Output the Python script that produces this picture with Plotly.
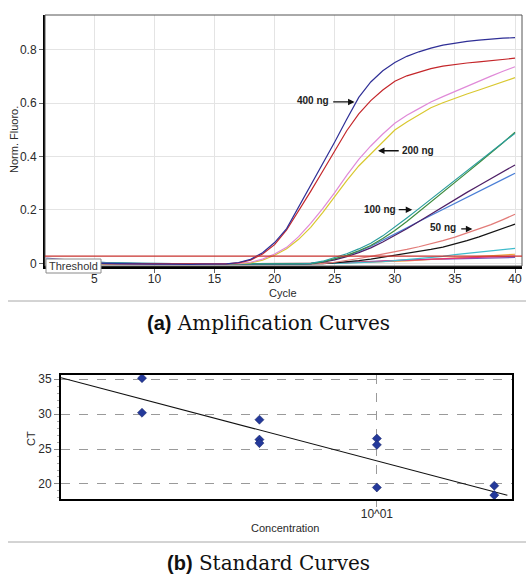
import plotly.graph_objects as go

W, H = 526, 574

# ---------------- DATA ----------------
cycles = list(range(1, 41))

blue_400 = [0.010, 0.006, 0.003, 0.001, 0.000, -0.001, -0.002, -0.002, -0.003, -0.003,
            -0.003, -0.004, -0.004, -0.003, -0.003, -0.002, 0.003, 0.015, 0.040, 0.078,
            0.130, 0.210, 0.290, 0.375, 0.455, 0.540, 0.622, 0.680, 0.722, 0.753,
            0.776, 0.793, 0.807, 0.818, 0.826, 0.832, 0.837, 0.841, 0.844, 0.846]
red_400 = [0.006, 0.004, 0.002, 0.001, 0.000, -0.001, -0.001, -0.002, -0.002, -0.003,
           -0.003, -0.003, -0.003, -0.003, -0.002, -0.002, 0.002, 0.012, 0.035, 0.070,
           0.125, 0.195, 0.270, 0.345, 0.420, 0.497, 0.560, 0.610, 0.650, 0.683,
           0.703, 0.718, 0.730, 0.739, 0.746, 0.751, 0.755, 0.759, 0.764, 0.769]
pink_200 = [0.008, 0.005, 0.003, 0.001, 0.000, -0.001, -0.001, -0.002, -0.002, -0.002,
            -0.003, -0.003, -0.003, -0.002, -0.002, -0.001, 0.000, 0.004, 0.016, 0.035,
            0.060, 0.100, 0.150, 0.205, 0.265, 0.330, 0.390, 0.440, 0.485, 0.525,
            0.555, 0.580, 0.605, 0.625, 0.645, 0.665, 0.684, 0.702, 0.720, 0.737]
yellow_200 = [0.004, 0.002, 0.001, 0.000, -0.001, -0.001, -0.002, -0.002, -0.003, -0.003,
              -0.003, -0.003, -0.003, -0.003, -0.002, -0.002, -0.001, 0.002, 0.012, 0.030,
              0.055, 0.090, 0.135, 0.190, 0.250, 0.310, 0.365, 0.410, 0.455, 0.500,
              0.530, 0.558, 0.583, 0.602, 0.619, 0.635, 0.650, 0.665, 0.680, 0.696]
teal_100 = [0.014, 0.010, 0.006, 0.003, 0.001, 0.000, -0.001, -0.001, -0.002, -0.002,
            -0.002, -0.002, -0.003, -0.003, -0.003, -0.003, -0.003, -0.003, -0.003, -0.003,
            -0.002, -0.002, 0.000, 0.008, 0.022, 0.036, 0.054, 0.075, 0.103, 0.135,
            0.170, 0.205, 0.240, 0.275, 0.310, 0.345, 0.380, 0.415, 0.450, 0.488]
green_100 = [0.004, 0.002, 0.001, 0.000, -0.001, -0.001, -0.002, -0.002, -0.002, -0.003,
             -0.003, -0.003, -0.003, -0.003, -0.003, -0.003, -0.003, -0.003, -0.003, -0.003,
             -0.003, -0.002, -0.001, 0.005, 0.017, 0.030, 0.047, 0.067, 0.093, 0.123,
             0.157, 0.193, 0.230, 0.267, 0.304, 0.340, 0.377, 0.414, 0.452, 0.492]
purple_100 = [0.003, 0.002, 0.001, 0.000, -0.001, -0.002, -0.002, -0.003, -0.003, -0.003,
              -0.003, -0.004, -0.004, -0.004, -0.004, -0.004, -0.004, -0.004, -0.004, -0.003,
              -0.003, -0.002, -0.001, 0.004, 0.013, 0.025, 0.040, 0.058, 0.080, 0.104,
              0.130, 0.157, 0.185, 0.212, 0.240, 0.266, 0.292, 0.317, 0.343, 0.369]
blue_100 = [0.005, 0.003, 0.002, 0.001, 0.000, -0.001, -0.001, -0.002, -0.002, -0.002,
            -0.003, -0.003, -0.003, -0.003, -0.003, -0.003, -0.003, -0.003, -0.003, -0.003,
            -0.002, -0.002, -0.001, 0.006, 0.016, 0.029, 0.045, 0.064, 0.086, 0.109,
            0.133, 0.157, 0.180, 0.203, 0.225, 0.248, 0.271, 0.294, 0.316, 0.338]
salmon_50 = [0.006, 0.004, 0.002, 0.001, 0.000, -0.001, -0.001, -0.002, -0.002, -0.002,
             -0.002, -0.003, -0.003, -0.003, -0.003, -0.003, -0.003, -0.003, -0.003, -0.003,
             -0.003, -0.002, -0.002, -0.001, 0.004, 0.010, 0.018, 0.026, 0.034, 0.042,
             0.052, 0.062, 0.073, 0.085, 0.098, 0.113, 0.128, 0.145, 0.164, 0.184]
black_50 = [0.002, 0.001, 0.000, 0.000, 0.000, 0.000, 0.000, 0.000, 0.000, 0.000,
            0.000, 0.000, 0.000, 0.000, -0.001, -0.001, -0.002, -0.002, -0.003, -0.003,
            -0.003, -0.003, -0.002, -0.001, 0.002, 0.005, 0.010, 0.016, 0.023, 0.030,
            0.037, 0.044, 0.052, 0.061, 0.072, 0.085, 0.099, 0.114, 0.130, 0.147]
cyan_low = [0.016, 0.013, 0.010, 0.007, 0.005, 0.003, 0.002, 0.001, 0.000, -0.001,
            -0.001, -0.002, -0.002, -0.002, -0.002, -0.002, -0.002, -0.002, -0.002, -0.002,
            -0.002, -0.002, -0.001, -0.001, 0.000, 0.001, 0.002, 0.004, 0.006, 0.010,
            0.014, 0.018, 0.022, 0.026, 0.033, 0.038, 0.042, 0.047, 0.051, 0.056]
magenta_low = [0.003, 0.002, 0.001, 0.000, -0.001, -0.001, -0.002, -0.002, -0.002, -0.002,
               -0.002, -0.002, -0.002, -0.002, -0.002, -0.002, -0.002, -0.002, -0.002, -0.002,
               -0.002, -0.001, -0.001, 0.000, 0.001, 0.002, 0.003, 0.006, 0.008, 0.010,
               0.012, 0.014, 0.016, 0.018, 0.019, 0.021, 0.022, 0.024, 0.025, 0.027]
orange_low = [0.002, 0.001, 0.000, 0.000, -0.001, -0.001, -0.001, -0.002, -0.002, -0.002,
              -0.002, -0.002, -0.002, -0.002, -0.002, -0.002, -0.002, -0.002, -0.002, -0.002,
              -0.002, -0.001, -0.001, 0.000, 0.001, 0.002, 0.003, 0.004, 0.005, 0.006,
              0.009, 0.012, 0.015, 0.018, 0.021, 0.024, 0.027, 0.030, 0.032, 0.034]
violet_low = [0.020, 0.016, 0.012, 0.008, 0.005, 0.003, 0.001, 0.000, -0.001, -0.002,
              -0.002, -0.003, -0.003, -0.004, -0.004, -0.004, -0.004, -0.004, -0.004, -0.004,
              -0.003, -0.002, -0.001, 0.000, 0.002, 0.004, 0.006, 0.008, 0.010, 0.012,
              0.013, 0.014, 0.015, 0.016, 0.017, 0.018, 0.019, 0.020, 0.021, 0.022]

threshold_value = 0.027

curve_names = ["violet_low", "orange_low", "magenta_low", "cyan_low", "black_50", "salmon_50",
               "blue_100", "purple_100", "green_100", "teal_100", "yellow_200", "pink_200",
               "red_400", "blue_400"]
curve_values = [violet_low, orange_low, magenta_low, cyan_low, black_50, salmon_50,
                blue_100, purple_100, green_100, teal_100, yellow_200, pink_200,
                red_400, blue_400]
curve_colors = ["#7a5ab8", "#f0a23a", "#e0307e", "#3fbccc", "#141414", "#e27b78",
                "#4a7fd6", "#4e1f66", "#3d8b3d", "#2a9d9d", "#d9c830", "#e08ad8",
                "#c4262a", "#2f2f96"]

# labels and arrows: text, text position, arrow start, arrow tip (cycle, fluoro)
label_texts = ["400 ng", "200 ng", "100 ng", "50 ng"]
label_pos = [(23.2, 0.61), (31.96, 0.422), (28.77, 0.201), (34.0, 0.134)]
arrow_from = [(24.75, 0.605), (30.45, 0.422), (30.2, 0.201), (35.4, 0.129)]
arrow_to = [(26.65, 0.605), (28.6, 0.422), (31.45, 0.201), (36.45, 0.129)]

x_ticks_a = [5, 10, 15, 20, 25, 30, 35, 40]
y_ticks_a = [0, 0.2, 0.4, 0.6, 0.8]
y_ticktext_a = ["0", "0.2", "0.4", "0.6", "0.8"]

# standard curve
concentration = [2.5, 2.5, 5, 5, 5, 10, 10, 10, 20, 20]
ct_values = [35.15, 30.2, 29.2, 26.35, 25.85, 26.5, 25.6, 19.5, 19.75, 18.4]
fit_conc = [1.55, 21.6]
fit_ct = [35.2, 18.4]
y_ticks_b = [20, 25, 30, 35]
x_ticks_b = [10]
x_ticktext_b = ["10^01"]

# ---------------- FIGURE ----------------
def px_x(p):
    return p / W

def px_y(p):
    return 1 - p / H

fig = go.Figure()

for name, vals, col in zip(curve_names, curve_values, curve_colors):
    fig.add_trace(go.Scatter(x=cycles, y=vals, mode="lines", name=name,
                             line=dict(color=col, width=1.2), xaxis="x", yaxis="y",
                             showlegend=False, hoverinfo="skip"))

fig.add_trace(go.Scatter(x=fit_conc, y=fit_ct, mode="lines",
                         line=dict(color="#111111", width=1.1),
                         xaxis="x2", yaxis="y2", showlegend=False))
fig.add_trace(go.Scatter(x=concentration, y=ct_values, mode="markers",
                         marker=dict(symbol="diamond", size=7, color="#24399a",
                                     line=dict(color="#142060", width=0.5)),
                         xaxis="x2", yaxis="y2", showlegend=False, cliponaxis=False))

tick_font = dict(family="Liberation Sans, Arial, sans-serif", size=12, color="#2a2a2a")

fig.update_layout(
    width=W, height=H, autosize=False,
    margin=dict(l=0, r=0, t=0, b=0, autoexpand=False),
    paper_bgcolor="white", plot_bgcolor="white",
    xaxis=dict(domain=[px_x(45), px_x(522)], range=[0.9, 40.58], tickvals=x_ticks_a,
               showgrid=True, gridcolor="#e4e4e4", gridwidth=1, zeroline=False,
               ticks="outside", ticklen=4, tickcolor="#666", tickfont=tick_font,
               ticklabelstandoff=-4,
               showline=True, linecolor="black", linewidth=2.5, anchor="y",
               automargin=False),
    yaxis=dict(domain=[px_y(266), px_y(15)], range=[-0.01, 0.931], tickvals=y_ticks_a,
               ticktext=y_ticktext_a, showgrid=True, gridcolor="#e4e4e4", zeroline=False,
               ticks="outside", ticklen=4, tickcolor="#666", tickfont=tick_font,
               showline=True, linecolor="black", linewidth=2, anchor="x",
               automargin=False),
    xaxis2=dict(domain=[px_x(61), px_x(512)], type="log",
                range=[0.1903, 1.3464], tickvals=x_ticks_b, ticktext=x_ticktext_b,
                showgrid=True, gridcolor="#9a9a9a", griddash="dash", gridwidth=1,
                zeroline=False, ticks="outside", ticklen=6, tickcolor="#9a9a9a",
                ticklabelstandoff=-3,
                tickfont=tick_font, showline=True, mirror=True, linecolor="black",
                linewidth=2, anchor="y2", automargin=False),
    yaxis2=dict(domain=[px_y(499), px_y(375)], range=[17.85, 35.6], tickvals=y_ticks_b,
                showgrid=True, gridcolor="#9a9a9a", griddash="dash", gridwidth=1,
                zeroline=False, ticks="outside", ticklen=5, tickcolor="#888",
                tickfont=tick_font, showline=True, mirror=True, linecolor="black",
                linewidth=2, anchor="x2", automargin=False,
                minor=dict(dtick=1, ticks="outside", ticklen=2, tickcolor="#aaa", showgrid=False)),
)

shapes = []
# top chart frame (top / right thin grey)
shapes.append(dict(type="rect", xref="x domain", yref="y domain", x0=0, x1=1, y0=0, y1=1,
                   line=dict(color="#555", width=1), layer="above"))
# threshold line
shapes.append(dict(type="line", xref="x domain", yref="y", x0=0, x1=1,
                   y0=threshold_value, y1=threshold_value,
                   line=dict(color="#c8322e", width=1.3), layer="above"))
# threshold label box
shapes.append(dict(type="rect", xref="paper", yref="paper", x0=px_x(46), x1=px_x(101),
                   y0=px_y(273), y1=px_y(259), line=dict(color="#8a8a8a", width=1),
                   fillcolor="white", layer="above"))
# separators
for yy in (301, 542):
    shapes.append(dict(type="line", xref="paper", yref="paper", x0=px_x(8), x1=1,
                       y0=px_y(yy), y1=px_y(yy), line=dict(color="#a8a8a8", width=1)))
fig.update_layout(shapes=shapes)

ann = []
lbl_font = dict(family="Liberation Sans, Arial, sans-serif", size=10, color="#222")
for t, (lx, ly), (fx, fy), (tx, ty) in zip(label_texts, label_pos, arrow_from, arrow_to):
    ann.append(dict(x=lx, y=ly, xref="x", yref="y", text="<b>" + t + "</b>",
                    showarrow=False, font=lbl_font, xanchor="center", yanchor="middle"))
    ann.append(dict(x=tx, y=ty, ax=fx, ay=fy, xref="x", yref="y", axref="x", ayref="y",
                    text="", showarrow=True, arrowhead=2, arrowsize=1, arrowwidth=1.3,
                    arrowcolor="#111"))

title_font = dict(family="Liberation Sans, Arial, sans-serif", size=11, color="#2a2a2a")


def paper_text(xp, yp, text, font, angle=0):
    return dict(x=px_x(xp), y=px_y(yp), xref="paper", yref="paper", text=text,
                textangle=angle, showarrow=False, font=font,
                xanchor="center", yanchor="middle")


ann.append(paper_text(73.5, 266, "Threshold",
                      dict(family="Liberation Sans, Arial, sans-serif", size=11, color="#333")))
ann.append(paper_text(14, 140, "Norm. Fluoro.", title_font, -90))
ann.append(paper_text(283, 293, "Cycle", title_font))
ann.append(paper_text(31, 439, "CT", title_font, -90))
ann.append(paper_text(285, 528, "Concentration", title_font))

cap_font = dict(family="DejaVu Serif, serif", size=20, color="#111")
bold_span = '<span style="font-family:Liberation Sans;font-weight:bold">{}</span>'
ann.append(paper_text(268, 323, bold_span.format("(a)") + " Amplification Curves", cap_font))
ann.append(paper_text(268, 563, bold_span.format("(b)") + " Standard Curves", cap_font))
fig.update_layout(annotations=ann)

fig.write_html("out.html", config={"displayModeBar": False},
               post_script="document.body.style.margin='0';document.body.style.overflow='hidden';")
